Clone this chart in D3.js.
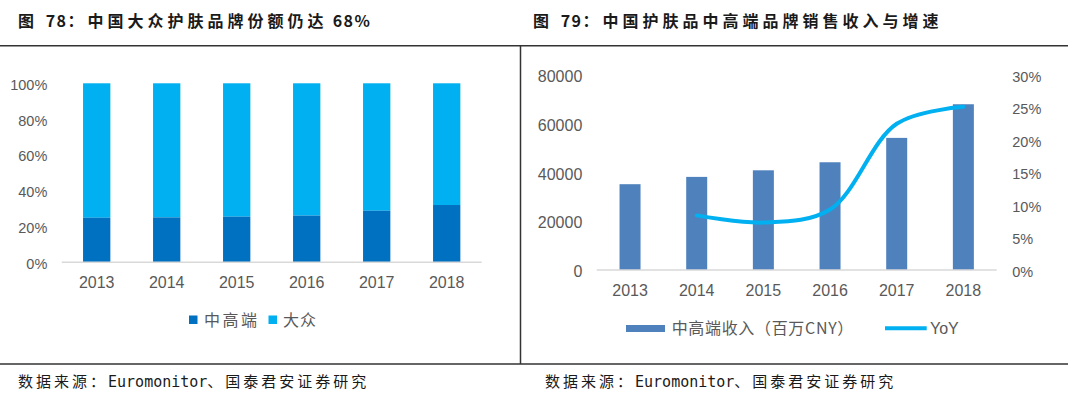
<!DOCTYPE html>
<html>
<head>
<meta charset="utf-8">
<script src="https://cdn.jsdelivr.net/npm/d3@7"></script>
<style>
    body { margin: 0; background: #fff; }
    svg { display: block; }
    .cjk { font-family: "Noto Sans CJK SC", "Noto Sans", sans-serif; }
    .num { font-family: "Liberation Sans", Arial, sans-serif; fill: #595959; }
</style>
</head>
<body>
<script>
// Data
let years = ['2013', '2014', '2015', '2016', '2017', '2018'];
let midHighShare = [24.9, 25.1, 25.5, 26.1, 28.8, 32.0];   // 中高端 %
let massShare = [75.1, 74.9, 74.5, 73.9, 71.2, 68.0];      // 大众 %
let shareTicks = [0, 20, 40, 60, 80, 100];

let revenue = [35200, 38200, 40900, 44200, 54200, 68000];  // 中高端收入（百万CNY）
let yoy = [null, 8.4, 7.3, 9.3, 22.5, 25.1];                // YoY %
let revenueTicks = [0, 20000, 40000, 60000, 80000];
let yoyTicks = [0, 5, 10, 15, 20, 25, 30];

// Title / source text split into runs: CJK runs get wide spacing, latin runs stay tight
let titleLeft = [['图 ', 'c'], ['78', 'l'], ['：中国大众护肤品牌份额仍达', 'c'], [' 68%', 'l']];
let titleRight = [['图 ', 'c'], ['79', 'l'], ['：中国护肤品中高端品牌销售收入与增速', 'c']];
let source = [['数据来源：', 'c'], ['Euromonitor', 'm'], ['、国泰君安证券研究', 'c']];

let colors = { midHigh: '#0070C0', mass: '#00B0F0', bar: '#4F81BD', line: '#00B0F0', axis: '#D9D9D9' };

let width = 1080, height = 400;

let svg = d3.select('body')
    .append('svg')
    .attr('width', width)
    .attr('height', height);

// Frame lines
let frame = svg.append('g').attr('stroke', '#333').attr('stroke-width', 1.5);
frame.append('line').attr('x1', 0).attr('x2', 1068).attr('y1', 45.7).attr('y2', 45.7);
frame.append('line').attr('x1', 0).attr('x2', 1068).attr('y1', 364).attr('y2', 364);
frame.append('line').attr('x1', 520.5).attr('x2', 520.5).attr('y1', 45.7).attr('y2', 364);

// Titles
function runText(g, runs, x, y, size, weight, spacing) {
    let t = g.append('text')
        .attr('class', 'cjk')
        .attr('x', x)
        .attr('y', y)
        .attr('dy', '0.35em')
        .style('font-size', size + 'px')
        .style('font-weight', weight)
        .style('fill', '#1a1a1a');
    t.selectAll('tspan')
        .data(runs)
        .enter()
        .append('tspan')
        .style('letter-spacing', d => spacing[d[1]] + 'px')
        .style('font-family', d => d[1] == 'm' ? '"DejaVu Sans Mono", monospace' : null)
        .text(d => d[0]);
    return t;
}

runText(svg, titleLeft, 18, 21.7, 16, 'bold', { c: 4, l: 1.5 });
runText(svg, titleRight, 533, 21.7, 16, 'bold', { c: 4, l: 1.5 });
runText(svg, source, 18, 381.7, 15, 'normal', { c: 3, m: 0 });
runText(svg, source, 545, 381.7, 15, 'normal', { c: 3, m: 0 });

// ---------- Left chart: stacked share ----------
let x1 = d3.scaleBand(years, [61.7, 481.7]).paddingInner(0.61).paddingOuter(0.305);
let y1 = d3.scaleLinear([0, 100], [262.3, 83.3]);

let left = svg.append('g');

left.append('g')
    .selectAll('rect')
    .data(years)
    .enter()
    .append('rect')
    .attr('x', d => x1(d))
    .attr('width', x1.bandwidth())
    .attr('y', (d, i) => y1(midHighShare[i] + massShare[i]))
    .attr('height', (d, i) => y1(midHighShare[i]) - y1(midHighShare[i] + massShare[i]))
    .attr('fill', colors.mass);

left.append('g')
    .selectAll('rect')
    .data(years)
    .enter()
    .append('rect')
    .attr('x', d => x1(d))
    .attr('width', x1.bandwidth())
    .attr('y', (d, i) => y1(midHighShare[i]))
    .attr('height', (d, i) => y1(0) - y1(midHighShare[i]))
    .attr('fill', colors.midHigh);

left.append('line')
    .attr('x1', 61.7).attr('x2', 481.7)
    .attr('y1', y1(0)).attr('y2', y1(0))
    .attr('stroke', colors.axis).attr('stroke-width', 1.5);

left.selectAll('.ytick')
    .data(shareTicks)
    .enter()
    .append('text')
    .attr('class', 'ytick num')
    .attr('x', 47.3)
    .attr('y', d => y1(d) + 1.5)
    .attr('dy', '0.35em')
    .attr('text-anchor', 'end')
    .style('font-size', '14.5px')
    .text(d => d + '%');

left.selectAll('.xtick')
    .data(years)
    .enter()
    .append('text')
    .attr('class', 'xtick num')
    .attr('x', d => x1(d) + x1.bandwidth() / 2)
    .attr('y', 282.7)
    .attr('dy', '0.35em')
    .attr('text-anchor', 'middle')
    .style('font-size', '16px')
    .text(d => d);

// Legend
let leftLegend = [
    { name: '中高端', color: colors.midHigh, x: 189, tx: 204, len: 53 },
    { name: '大众', color: colors.mass, x: 268.5, tx: 283, len: 33 },
];
let ll = left.selectAll('.legend')
    .data(leftLegend)
    .enter()
    .append('g')
    .attr('class', 'legend');
ll.append('rect')
    .attr('x', d => d.x).attr('y', 315.5)
    .attr('width', 8.5).attr('height', 8.5)
    .attr('fill', d => d.color);
ll.append('text')
    .attr('class', 'cjk')
    .attr('x', d => d.tx).attr('y', 320)
    .attr('dy', '0.35em')
    .attr('textLength', d => d.len)
    .attr('lengthAdjust', 'spacing')
    .style('font-size', '16px')
    .style('fill', '#595959')
    .text(d => d.name);

// ---------- Right chart: revenue bars + YoY line ----------
let x2 = d3.scaleBand(years, [596.7, 996.7]).paddingInner(0.685).paddingOuter(0.3425);
let y2 = d3.scaleLinear([0, 80000], [270, 75]);
let y3 = d3.scaleLinear([0, 30], [270, 75]);

let right = svg.append('g');

right.append('g')
    .selectAll('rect')
    .data(years)
    .enter()
    .append('rect')
    .attr('x', d => x2(d))
    .attr('width', x2.bandwidth())
    .attr('y', (d, i) => y2(revenue[i]))
    .attr('height', (d, i) => y2(0) - y2(revenue[i]))
    .attr('fill', colors.bar);

right.append('line')
    .attr('x1', 596.7).attr('x2', 996.7)
    .attr('y1', y2(0)).attr('y2', y2(0))
    .attr('stroke', colors.axis).attr('stroke-width', 1.5);

let yoyLine = d3.line()
    .x(d => x2(d[0]) + x2.bandwidth() / 2)
    .y(d => y3(d[1]))
    .curve(d3.curveCatmullRom);

right.append('path')
    .datum(years.map((d, i) => [d, yoy[i]]).filter(d => d[1] != null))
    .attr('d', yoyLine)
    .attr('fill', 'none')
    .attr('stroke', colors.line)
    .attr('stroke-width', 4)
    .attr('stroke-linecap', 'round');

right.selectAll('.ytick')
    .data(revenueTicks)
    .enter()
    .append('text')
    .attr('class', 'ytick num')
    .attr('x', 582.3)
    .attr('y', d => y2(d) + 1.5)
    .attr('dy', '0.35em')
    .attr('text-anchor', 'end')
    .style('font-size', '16px')
    .text(d => d);

right.selectAll('.ytick2')
    .data(yoyTicks)
    .enter()
    .append('text')
    .attr('class', 'ytick2 num')
    .attr('x', 1012.3)
    .attr('y', d => y3(d) + 1.5)
    .attr('dy', '0.35em')
    .style('font-size', '14.5px')
    .text(d => d + '%');

right.selectAll('.xtick')
    .data(years)
    .enter()
    .append('text')
    .attr('class', 'xtick num')
    .attr('x', d => x2(d) + x2.bandwidth() / 2)
    .attr('y', 290)
    .attr('dy', '0.35em')
    .attr('text-anchor', 'middle')
    .style('font-size', '16px')
    .text(d => d);

// Legend
right.append('rect')
    .attr('x', 626).attr('y', 325)
    .attr('width', 39).attr('height', 7)
    .attr('fill', colors.bar);
right.append('text')
    .attr('class', 'cjk')
    .attr('x', 671.7).attr('y', 328.3)
    .attr('dy', '0.35em')
    .attr('textLength', 181.6)
    .attr('lengthAdjust', 'spacing')
    .style('font-size', '16px')
    .style('fill', '#595959')
    .text('中高端收入（百万CNY）');
right.append('line')
    .attr('x1', 885).attr('x2', 926.7)
    .attr('y1', 328.3).attr('y2', 328.3)
    .attr('stroke', colors.line).attr('stroke-width', 4);
right.append('text')
    .attr('class', 'num')
    .attr('x', 930).attr('y', 328.3)
    .attr('dy', '0.35em')
    .style('font-size', '16px')
    .text('YoY');
</script>
</body>
</html>
